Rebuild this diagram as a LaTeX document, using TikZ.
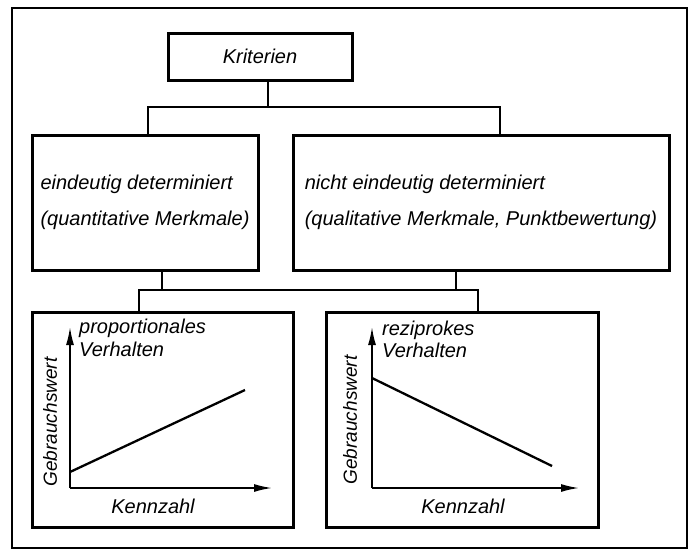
\documentclass[tikz,border=0pt]{standalone}
\usepackage{fontspec}
\setmainfont{Liberation Sans}
\usetikzlibrary{arrows.meta}
\tikzset{
  txt/.style={font=\fontsize{20}{36}\selectfont\itshape, inner sep=0pt},
  bigbox/.style={draw, line width=3pt, inner sep=0pt, font=\fontsize{20}{36}\selectfont\itshape, align=left},
  chartbox/.style={draw, line width=3pt, inner sep=0pt},
  conn/.style={line width=1.2pt},
  axis/.style={line width=1.7pt, -{Latex[length=18pt,width=8pt]}},
  curve/.style={line width=2.3pt},
}
\begin{document}
\begin{tikzpicture}[x=1pt,y=-1pt]
\useasboundingbox (0,0) rectangle (693,552);
% outer frame
\draw[line width=2.3pt] (12,8) rectangle (687,548);
% top level
\node[bigbox, minimum width=184pt, minimum height=47pt] (krit) at (260,56.5) {Kriterien};
\node[bigbox, minimum width=226pt, minimum height=135pt] (det) at (145,202.5)
  {eindeutig determiniert\\(quantitative Merkmale)};
\node[bigbox, minimum width=376pt, minimum height=135pt] (ndet) at (481,202.5)
  {nicht eindeutig determiniert\\(qualitative Merkmale, Punktbewertung)};
% chart boxes
\node[chartbox, minimum width=261pt, minimum height=215pt] (propbox) at (162.5,419.5) {};
\node[chartbox, minimum width=272pt, minimum height=215pt] (rezbox) at (462,419.5) {};
% connectors top
\coordinate (j1) at (268,107);
\draw[conn] (krit.south -| j1) -- (j1);
\draw[conn] (det.north -| 148,0) |- (j1) -| (ndet.north -| 500,0);
% connectors lower
\coordinate (j2) at (162,290);
\coordinate (j3) at (456,290);
\draw[conn] (det.south -| j2) -- (j2);
\draw[conn] (ndet.south -| j3) -- (j3);
\draw[conn] (propbox.north -| 139,0) |- (j2) -- (j3) -| (rezbox.north -| 478,0);
% left chart
\coordinate (o1) at (70,488);
\coordinate (ytip1) at (70,327);
\coordinate (xtip1) at (272,488);
\draw[axis] (o1) -- (ytip1);
\draw[axis] (o1) -- (xtip1);
\coordinate (p1a) at (70,472);
\coordinate (p1b) at (245,390);
\draw[curve] (p1a) -- (p1b);
\node[txt, anchor=base west] (prop1) at (79,333) {proportionales};
\node[txt, anchor=base west] (prop2) at (79,356) {Verhalten};
\node[txt, rotate=90, font=\fontsize{19}{20}\selectfont\itshape] (gw1) at (50,422) {Gebrauchswert};
\node[txt, anchor=base] (kz1) at (153,513) {Kennzahl};
% right chart
\coordinate (o2) at (372,488);
\coordinate (ytip2) at (372,327);
\coordinate (xtip2) at (579,488);
\draw[axis] (o2) -- (ytip2);
\draw[axis] (o2) -- (xtip2);
\coordinate (p2a) at (372,378);
\coordinate (p2b) at (552,466);
\draw[curve] (p2a) -- (p2b);
\node[txt, anchor=base west] (rez1) at (382,335) {reziprokes};
\node[txt, anchor=base west] (rez2) at (382,357) {Verhalten};
\node[txt, rotate=90, font=\fontsize{19}{20}\selectfont\itshape] (gw2) at (350,420) {Gebrauchswert};
\node[txt, anchor=base] (kz2) at (463,513) {Kennzahl};
\end{tikzpicture}
\end{document}
